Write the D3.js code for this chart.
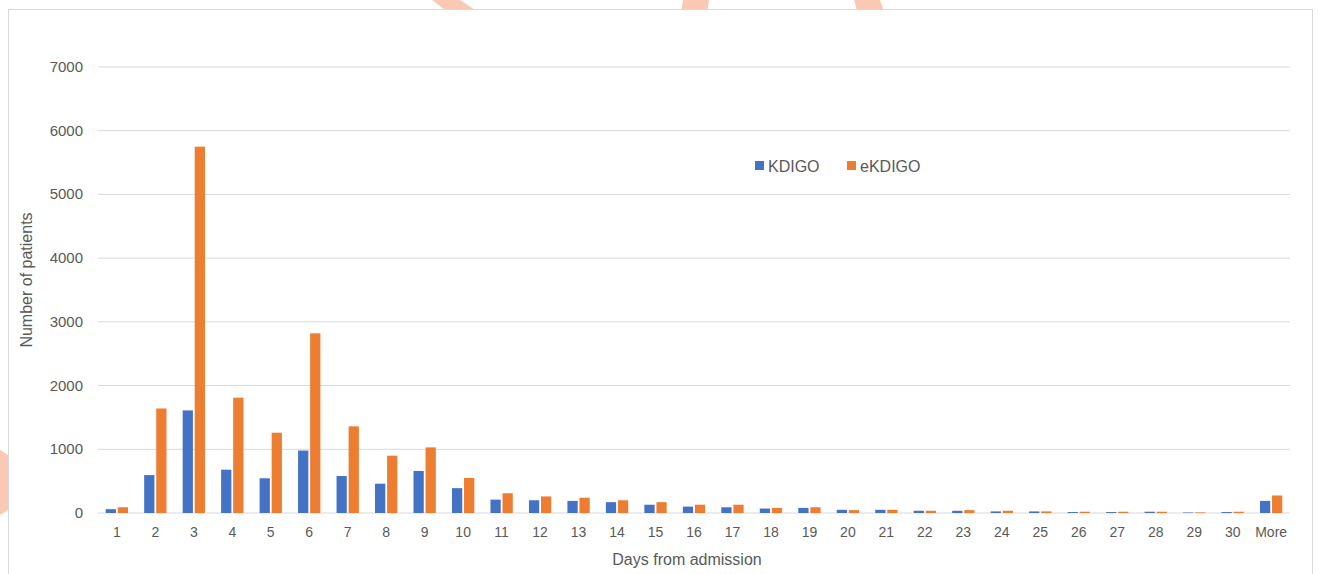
<!DOCTYPE html>
<html><head><meta charset="utf-8">
<script src="https://cdn.jsdelivr.net/npm/d3@7"></script>
<style>body{margin:0;background:#fff;font-family:"Liberation Sans",Arial,sans-serif}</style>
</head><body><div id="chart"></div>
<script>
const days = ['1','2','3','4','5','6','7','8','9','10','11','12','13','14','15','16','17','18','19','20','21','22','23','24','25','26','27','28','29','30','More'];
const kdigo = [60,595,1610,680,545,980,580,460,660,390,210,200,190,170,130,100,90,70,80,50,50,35,35,25,25,15,15,20,8,15,190];
const ekdigo = [90,1640,5750,1810,1260,2820,1360,900,1030,550,310,260,240,200,170,130,130,80,90,45,50,35,45,35,25,20,20,20,10,20,275];
const yTicks = [0,1000,2000,3000,4000,5000,6000,7000];

const width = 1318, height = 574;
const svg = d3.select('#chart').append('svg').attr('width', width).attr('height', height);

// faint decorative shapes at top edge
svg.append('path').attr('d','M432,0 L460,0 L490,20 L458,20 Z').style('fill','#f9c9b3');
svg.append('path').attr('d','M683,0 L709,0 L706,20 L680,20 Z').style('fill','#f9c9b3');
svg.append('path').attr('d','M854,0 L880,0 L887,20 L860,20 Z').style('fill','#f9c9b3');
svg.append('path').attr('d','M0,450 L8,455 L8,510 L0,515 Z').style('fill','#f9c9b3');

svg.append('rect').attr('x', 8.5).attr('y', 9.5).attr('width', 1304).attr('height', 580)
  .style('fill', '#fff').style('stroke', '#d9d9d9');

const x = d3.scaleBand().domain(days).range([98, 1290]).paddingInner(0.42).paddingOuter(0.2);
const x1 = d3.scaleBand().domain(['k','e']).range([0, x.bandwidth()]).paddingInner(0.15);
const y = d3.scaleLinear().domain([0, 7000]).range([513, 67]);

svg.append('g').selectAll('line').data(yTicks).enter().append('line')
  .attr('x1', 98).attr('x2', 1290).attr('y1', d => y(d)).attr('y2', d => y(d))
  .style('stroke', '#d9d9d9');

svg.append('g').selectAll('text').data(yTicks).enter().append('text')
  .attr('x', 83).attr('y', d => y(d) + 5).attr('text-anchor', 'end')
  .style('font-size', '15px').style('fill', '#595959').text(d => d);

const g = svg.append('g');
g.selectAll('.k').data(kdigo).enter().append('rect')
  .attr('x', (d, i) => x(days[i]) + x1('k')).attr('width', x1.bandwidth())
  .attr('y', d => y(d)).attr('height', d => y(0) - y(d)).style('fill', '#4472c4');
g.selectAll('.e').data(ekdigo).enter().append('rect')
  .attr('x', (d, i) => x(days[i]) + x1('e')).attr('width', x1.bandwidth())
  .attr('y', d => y(d)).attr('height', d => y(0) - y(d)).style('fill', '#ed7d31');

svg.append('g').selectAll('text').data(days).enter().append('text')
  .attr('x', d => x(d) + x.bandwidth() / 2).attr('y', 537).attr('text-anchor', 'middle')
  .style('font-size', '14px').style('fill', '#595959').text(d => d);

svg.append('text').attr('x', 687).attr('y', 565).attr('text-anchor', 'middle')
  .style('font-size', '16px').style('fill', '#595959').text('Days from admission');
svg.append('text').attr('transform', 'translate(32,280) rotate(-90)').attr('text-anchor', 'middle')
  .style('font-size', '16px').style('fill', '#595959').text('Number of patients');

const legend = [['KDIGO', '#4472c4', 755], ['eKDIGO', '#ed7d31', 847]];
legend.forEach(([name, c, lx]) => {
  svg.append('rect').attr('x', lx).attr('y', 161).attr('width', 9).attr('height', 9).style('fill', c);
  svg.append('text').attr('x', lx + 13).attr('y', 172).style('font-size', '16px').style('fill', '#595959').text(name);
});
</script></body></html>
